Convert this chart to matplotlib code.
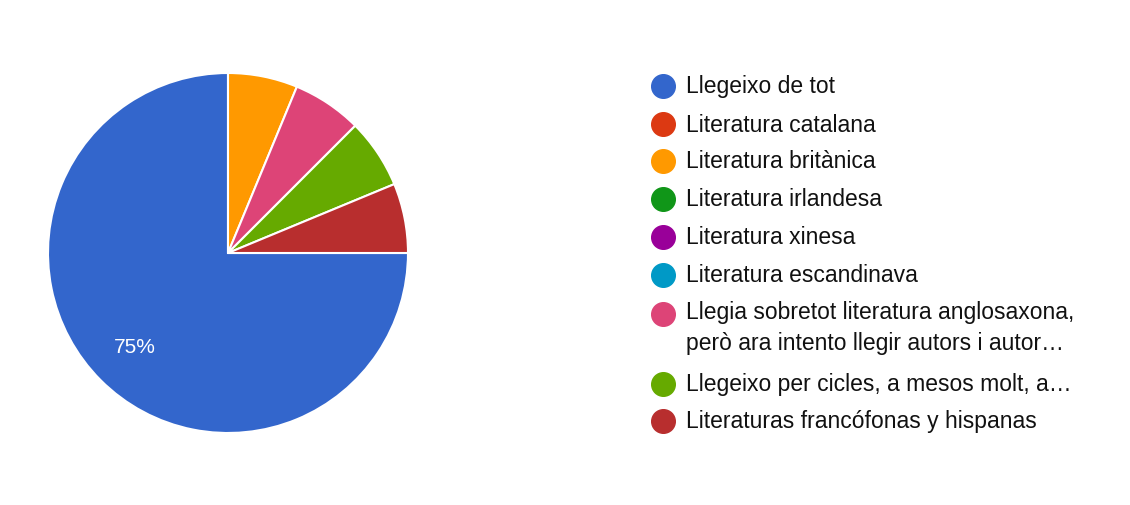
import matplotlib
matplotlib.use("Agg")
import matplotlib.pyplot as plt
from matplotlib.lines import Line2D

labels = ["Llegeixo de tot", "Literatura catalana", "Literatura britànica",
          "Literatura irlandesa", "Literatura xinesa", "Literatura escandinava",
          "Llegia sobretot literatura anglosaxona,\nperò ara intento llegir autors i autor…",
          "Llegeixo per cicles, a mesos molt, a…",
          "Literaturas francófonas y hispanas"]
values = [12, 0, 1, 0, 0, 0, 1, 1, 1]
colors = ["#3366cc", "#dc3912", "#ff9900", "#109618", "#990099", "#0099c6",
          "#dd4477", "#66aa00", "#b82e2e"]

fig = plt.figure(figsize=(11.3, 5.06), dpi=100)
ax = fig.add_axes([48/1130, 1-434/506, 360/1130, 360/506])
pv = [v for v in values if v > 0]
pc = [c for v, c in zip(values, colors) if v > 0]
total = sum(values)
ax.pie(pv, colors=pc, startangle=0, counterclock=False,
       wedgeprops=dict(edgecolor="white", linewidth=1.5))
ax.set_xlim(-1, 1)
ax.set_ylim(-1, 1)
ax.set_aspect("equal")
ax.text(-0.52, -0.52, f"{100*pv[0]/total:.0f}%", color="white", fontsize=15,
        ha="center", va="center", family="Liberation Sans")

ys = [87, 125, 162, 200, 238, 276, 315, 385, 422]
for lab, c, y in zip(labels, colors, ys):
    fig.add_artist(Line2D([663/1130], [1-y/506], marker="o", markersize=17,
                          color=c, transform=fig.transFigure))
    if "\n" in lab:
        fig.text(686/1130, 1-(315-14)/506, lab, fontsize=16.5, va="top",
                 family="Liberation Sans", color="#111111", linespacing=1.45)
    else:
        fig.text(686/1130, 1-y/506, lab, fontsize=16.5, va="center",
                 family="Liberation Sans", color="#111111")
fig.savefig("out.png", dpi=100)
